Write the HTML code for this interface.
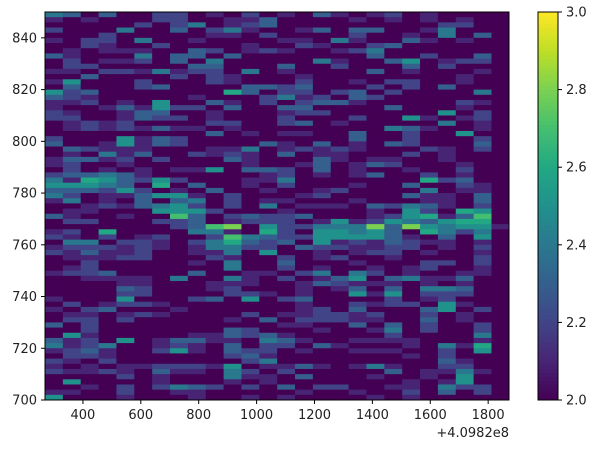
<!DOCTYPE html>
<html><head><meta charset="utf-8"><style>
html,body{margin:0;padding:0;background:#fff;}
svg text{font-family:"DejaVu Sans","Liberation Sans",sans-serif;font-size:13px;fill:#222;}
</style></head><body>
<svg id="chart" width="597" height="449" xmlns="http://www.w3.org/2000/svg">
<g id="cells"></g>
<g id="axes"></g>
<g id="cbar"></g>
</svg>
<script>
const xStart = 269, xStep = 61.7;          // time bins (offset +4.0982e8)
const yTop = 850, yStep = 2;               // y bins, top to bottom
const xTicks = [400, 600, 800, 1000, 1200, 1400, 1600, 1800];
const yTicks = [700, 720, 740, 760, 780, 800, 820, 840];
const cTicks = [2.0, 2.2, 2.4, 2.6, 2.8, 3.0];
// each digit d -> value 2 + d/10
const zRows = [
"43030022010201031012010000","10100022001130000101010100","00000202401230000000002200","20004003024100130330014000",
"00020000011020000200104030","10220400100001104100310100","00210020000100210023000000","01011100320121001240000000",
"31000403303000000030020030","02011203040000041003501220","02200000330003002000302000","11022141220401000030100010",
"00300002021000100000000100","15000200021000200102200100","03000230000332300020203000","52300000006302202302000040",
"32100000100024120320000000","11201050031020233100000210","10013152203003300003000100","21001330010001220000005020",
"22001322010002000200510120","01212000022002301000004010","01212131101000000004310010","00000000030101100300200500",
"20005132000000000300200020",
"30015132000031030103200030","03211100011401212100021020","01041300212103011000201000","13312020003100031011001000",
"12001000000100130132000100","02010101150332030100100200","23343100000012010130020100","41653252000114000000062300",
"55543060300102000100300210","33325201030010012000040110","42011355102000120000311030","14010303402011000100011030",
"00121345202040111032431020","01100055520001000010520650","31001007302322300012561370","02200022301222015125435660",
"00000002378052244483854551","12060000441062055453064240","21020120027432255553103050","04402210246323051213211010",
"12221210144220322112201020","21311200114050010122010010","01112200021002012001000020","00200000104003000100022020",
"01200000004002010010120010",
"12230000300110240420100110","00111104004102013503411300","00001100011100132111010100","00003200012000101303044300",
"00002200002210100515022200","10005000230502300002012000","02012210000000100212205100","10230001000000120300035020",
"01101210000201122120020100","02202000001030222110030100","30200000000001100303020020","00200000003200010014020020",
"05100000113231000002000040","31205013311043100111100010","41240012103022031000104160","12310025103220100111002050",
"02210000002310000000102000","21020000000240000000003100","10101122215011310141002200","21121031104202000003011410",
"00002010004110300010010500","05000010001010000000101500","00102024320203022001104220","11002001100000100100203020",
"50001000100101000010100000"
];
const vmin = 2.0, vmax = 3.0;

const P = {l:45, r:509, t:12, b:400};
const xMin = 269, xMax = 1872, yMin = 700, yMax = 850;
const X = v => P.l + (v - xMin) / (xMax - xMin) * (P.r - P.l);
const Y = v => P.b - (v - yMin) / (yMax - yMin) * (P.b - P.t);
const stops = ["#440154","#482475","#414487","#355f8d","#2a788e","#21918c","#22a884","#44bf70","#7ad151","#bddf26","#fde725"];
function hex(h){return [1,3,5].map(i=>parseInt(h.substr(i,2),16));}
function viridis(t){
  t=Math.max(0,Math.min(1,t)); const f=t*10, i=Math.min(9,Math.floor(f)), u=f-i;
  const a=hex(stops[i]), b=hex(stops[i+1]);
  return "rgb("+a.map((c,k)=>Math.round(c+(b[k]-c)*u)).join(",")+")";
}
const NS="http://www.w3.org/2000/svg";
function mk(tag, attrs, parent){const e=document.createElementNS(NS,tag);for(const k in attrs)e.setAttribute(k,attrs[k]);parent.appendChild(e);return e;}

const cells=document.getElementById('cells');
zRows.forEach((row,ri)=>{
  const y1=yTop-ri*yStep, y0=y1-yStep;
  for(let ci=0;ci<row.length;ci++){
    const v=vmin+parseInt(row[ci])/10;
    const x0=xStart+ci*xStep, x1=Math.min(xMax,x0+xStep);
    const r=mk('rect',{x:X(x0),y:Y(y1),width:X(x1)-X(x0)+0.4,height:Y(y0)-Y(y1)+0.4,fill:viridis((v-vmin)/(vmax-vmin))},cells);
    
    
  }
});

const ax=document.getElementById('axes');
const fr=mk('rect',{x:P.l,y:P.t,width:P.r-P.l,height:P.b-P.t,fill:'none',stroke:'#000','stroke-width':1},ax);


xTicks.forEach(t=>{
  const x=X(t);
  mk('line',{x1:x,x2:x,y1:P.b,y2:P.b+4,stroke:'#000'},ax);
  const tx=mk('text',{x:x,y:P.b+19,'text-anchor':'middle'},ax); tx.textContent=t;
  
  
});
const off=mk('text',{x:P.r,y:437,'text-anchor':'end'},ax); off.textContent='+4.0982e8';


yTicks.forEach(t=>{
  const y=Y(t);
  mk('line',{x1:P.l-4,x2:P.l,y1:y,y2:y,stroke:'#000'},ax);
  const tx=mk('text',{x:P.l-8,y:y+4.5,'text-anchor':'end'},ax); tx.textContent=t;
  
  
});

const cb=document.getElementById('cbar');
const C={l:538,r:558,t:12,b:400};
const N=100;
for(let i=0;i<N;i++){
  const y=C.b-(i+1)*(C.b-C.t)/N;
  mk('rect',{x:C.l,y:y,width:C.r-C.l,height:(C.b-C.t)/N+0.5,fill:viridis((i+0.5)/N)},cb);
}
const cf=mk('rect',{x:C.l,y:C.t,width:C.r-C.l,height:C.b-C.t,fill:'none',stroke:'#000'},cb);


cTicks.forEach(t=>{
  const y=C.b-(t-vmin)/(vmax-vmin)*(C.b-C.t);
  mk('line',{x1:C.r,x2:C.r+4,y1:y,y2:y,stroke:'#000'},cb);
  const tx=mk('text',{x:C.r+8,y:y+4.5},cb); tx.textContent=t.toFixed(1);
  
  
});
</script>
</body></html>
